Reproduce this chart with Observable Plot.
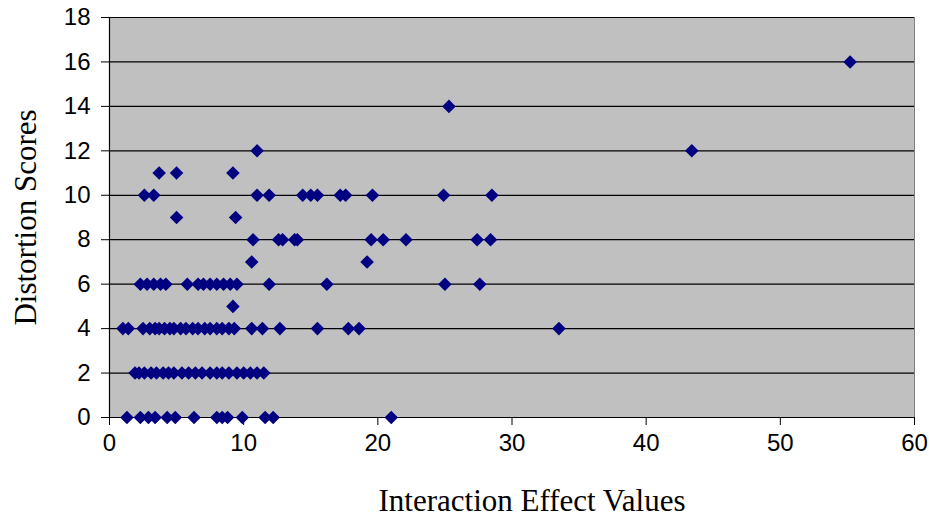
<!DOCTYPE html>
<html>
<head>
<meta charset="utf-8">
<script src="https://cdn.jsdelivr.net/npm/d3@7"></script>
<script src="https://cdn.jsdelivr.net/npm/@observablehq/plot@0.6"></script>
<style>
  html, body { margin: 0; padding: 0; background: #ffffff; }
  #chart svg { display: block; }
</style>
</head>
<body>
<div id="chart"></div>
<script>
// Interaction effect values (x) and distortion scores (y), grouped by score
const score0  = [1.3, 2.3, 2.9, 3.4, 4.3, 4.9, 6.3, 8.0, 8.4, 8.8, 9.9, 11.6, 12.2, 21.0];
const score2  = [1.9, 2.2, 2.6, 3.1, 3.5, 4.0, 4.4, 4.8, 5.4, 5.9, 6.4, 6.9, 7.5, 8.0, 8.4, 8.9, 9.5, 10.0, 10.5, 11.0, 11.5];
const score4  = [1.0, 1.4, 2.5, 3.0, 3.4, 3.7, 4.1, 4.5, 4.8, 5.3, 5.7, 6.2, 6.6, 7.1, 7.5, 8.0, 8.4, 8.9, 9.3, 10.6, 11.4, 12.7, 15.5, 17.8, 18.6, 33.5];
const score5  = [9.2];
const score6  = [2.3, 2.8, 3.3, 3.8, 4.2, 5.8, 6.6, 7.0, 7.5, 8.0, 8.5, 9.0, 9.5, 11.9, 16.2, 25.0, 27.6];
const score7  = [10.6, 19.2];
const score8  = [10.7, 12.6, 12.9, 13.8, 14.0, 19.5, 20.4, 22.1, 27.4, 28.4];
const score9  = [5.0, 9.4];
const score10 = [2.6, 3.3, 11.0, 11.9, 14.4, 15.0, 15.5, 17.2, 17.6, 19.6, 24.9, 28.5];
const score11 = [3.7, 5.0, 9.2];
const score12 = [11.0, 43.4];
const score14 = [25.3];
const score16 = [55.2];

const xTicks = [0, 10, 20, 30, 40, 50, 60];
const yTicks = [0, 2, 4, 6, 8, 10, 12, 14, 16, 18];
const xTitle = "Interaction Effect Values";
const yTitle = "Distortion Scores";

const groups = [
  [0, score0], [2, score2], [4, score4], [5, score5], [6, score6], [7, score7],
  [8, score8], [9, score9], [10, score10], [11, score11], [12, score12],
  [14, score14], [16, score16]
];
const points = groups.flatMap(([y, xs]) => xs.map(x => ({x, y})));

const serif = "'Liberation Serif', 'Times New Roman', serif";

const chart = Plot.plot({
  width: 929,
  height: 522,
  marginLeft: 109,
  marginRight: 15,
  marginTop: 17,
  marginBottom: 105,
  style: {fontFamily: "'Liberation Sans', Arial, sans-serif", fontSize: "24px", color: "black", background: "white"},
  x: {domain: [0, 60]},
  y: {domain: [0, 18]},
  marks: [
    Plot.frame({fill: "#C0C0C0", stroke: "#808080"}),
    Plot.ruleY(yTicks, {stroke: "black", strokeWidth: 1.2}),
    Plot.ruleX([0], {stroke: "black", strokeWidth: 1.2}),
    Plot.axisY({ticks: yTicks, tickSize: 8, tickPadding: 11, label: null, fontSize: 24, tickFormat: d => String(d)}),
    Plot.axisX({ticks: xTicks, tickSize: 8, tickPadding: 8, label: null, fontSize: 24, tickFormat: d => String(d)}),
    Plot.dot(points, {x: "x", y: "y", symbol: "diamond2", r: 6.1, fill: "#000080", stroke: "none"}),
    Plot.text([xTitle], {frameAnchor: "bottom", dx: 20, dy: 84, lineAnchor: "middle", textAnchor: "middle", fontFamily: serif, fontSize: 31, fill: "black"}),
    Plot.text([yTitle], {frameAnchor: "left", dx: -83, rotate: -90, lineAnchor: "middle", textAnchor: "middle", fontFamily: serif, fontSize: 31, fill: "black"})
  ]
});
document.getElementById("chart").appendChild(chart);
</script>
</body>
</html>
